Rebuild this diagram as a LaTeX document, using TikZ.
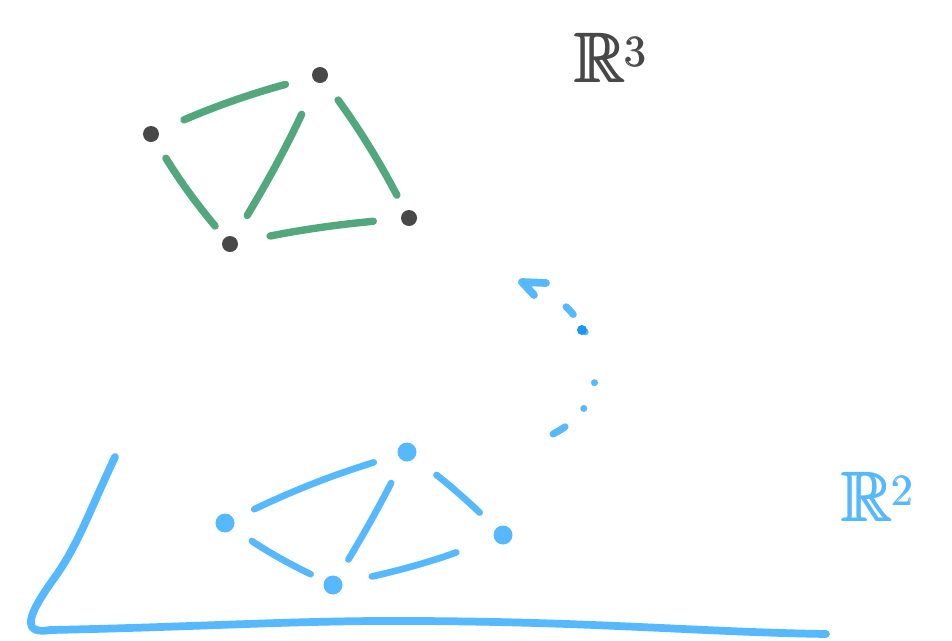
\documentclass[tikz,border=0pt]{standalone}
\usepackage{amsmath,amssymb}
\usepackage{xcolor}
\usetikzlibrary{arrows.meta}
\definecolor{sketchgreen}{RGB}{82,168,124}
\definecolor{sketchgray}{RGB}{72,72,72}
\definecolor{sketchblue}{RGB}{86,184,255}
\definecolor{sketchdeep}{RGB}{30,150,240}
\begin{document}
\begin{tikzpicture}[
    x=0.02cm, y=-0.02cm,
    gdot/.style={circle, fill=sketchgray, inner sep=0pt, minimum size=0.32cm},
    bdot/.style={circle, fill=sketchblue, inner sep=0pt, minimum size=0.38cm},
    gedge/.style={draw=sketchgreen, line width=4.2pt, line cap=round},
    bedge/.style={draw=sketchblue, line width=3.8pt, line cap=round},
    lbl/.style={font=\fontsize{40}{48}\selectfont}
]
\useasboundingbox (0,0) rectangle (952,640);

% Top: points in R^3
\node[gdot] (a3) at (151,134) {};
\node[gdot] (b3) at (320,75)  {};
\node[gdot] (c3) at (230,244) {};
\node[gdot] (d3) at (409,218) {};

\draw[gedge, shorten <=0.55cm, shorten >=0.55cm] (a3) to[bend left=4] (b3);
\draw[gedge, shorten <=0.4cm,  shorten >=0.3cm]  (a3) to[bend right=4] (c3);
\draw[gedge, shorten <=0.7cm,  shorten >=0.5cm]  (b3) to[bend left=3] (c3);
\draw[gedge, shorten <=0.45cm, shorten >=0.35cm] (b3) to[bend left=4] (d3);
\draw[gedge, shorten <=0.65cm, shorten >=0.55cm] (c3) to[bend left=3] (d3);

\node[lbl, text=sketchgray] (space3) at (611,58) {$\pmb{\mathbb{R}}^{\pmb{3}}$};

% Bottom: projected points in R^2
\node[bdot] (a2) at (225,523) {};
\node[bdot] (b2) at (407,452) {};
\node[bdot] (c2) at (333,585) {};
\node[bdot] (d2) at (503,535) {};

\draw[bedge, shorten <=0.45cm, shorten >=0.5cm]  (a2) to[bend left=4] (b2);
\draw[bedge, shorten <=0.45cm, shorten >=0.3cm]  (a2) to[bend right=4] (c2);
\draw[bedge, shorten <=0.5cm,  shorten >=0.4cm]  (b2) to[bend left=2] (c2);
\draw[bedge, shorten <=0.55cm, shorten >=0.45cm] (b2) to[bend left=3] (d2);
\draw[bedge, shorten <=0.6cm,  shorten >=0.8cm]  (c2) to[bend right=4] (d2);

\node[lbl, text=sketchblue] (space2) at (878,497) {$\pmb{\mathbb{R}}^{\pmb{2}}$};

% Axes of the plane
\draw[bedge, line width=4.4pt, line join=round]
    (115,457) .. controls (90,510) and (78,545) .. (55,577)
    .. controls (35,605) and (15,636) .. (50,630)
    .. controls (200,627) and (300,620) .. (420,621)
    .. controls (600,622) and (700,632) .. (826,634);

% Lifting arrow, dotted
\coordinate (liftfrom) at (553,434);
\coordinate (liftto)   at (522,282);
\draw[sketchblue, line width=4pt, line cap=round,
      dash pattern=on 8pt off 15pt on 0pt off 16pt on 0pt off 30pt on 0pt off 12pt on 6pt off 40pt]
    (liftfrom) .. controls (630,395) and (592,300) .. (liftto);
\fill[sketchdeep] (582,330) circle (0.1cm);
\draw[sketchblue, line width=4.4pt, line cap=round, line join=round]
    (546,283) -- (liftto) -- (534,295);
\end{tikzpicture}
\end{document}
